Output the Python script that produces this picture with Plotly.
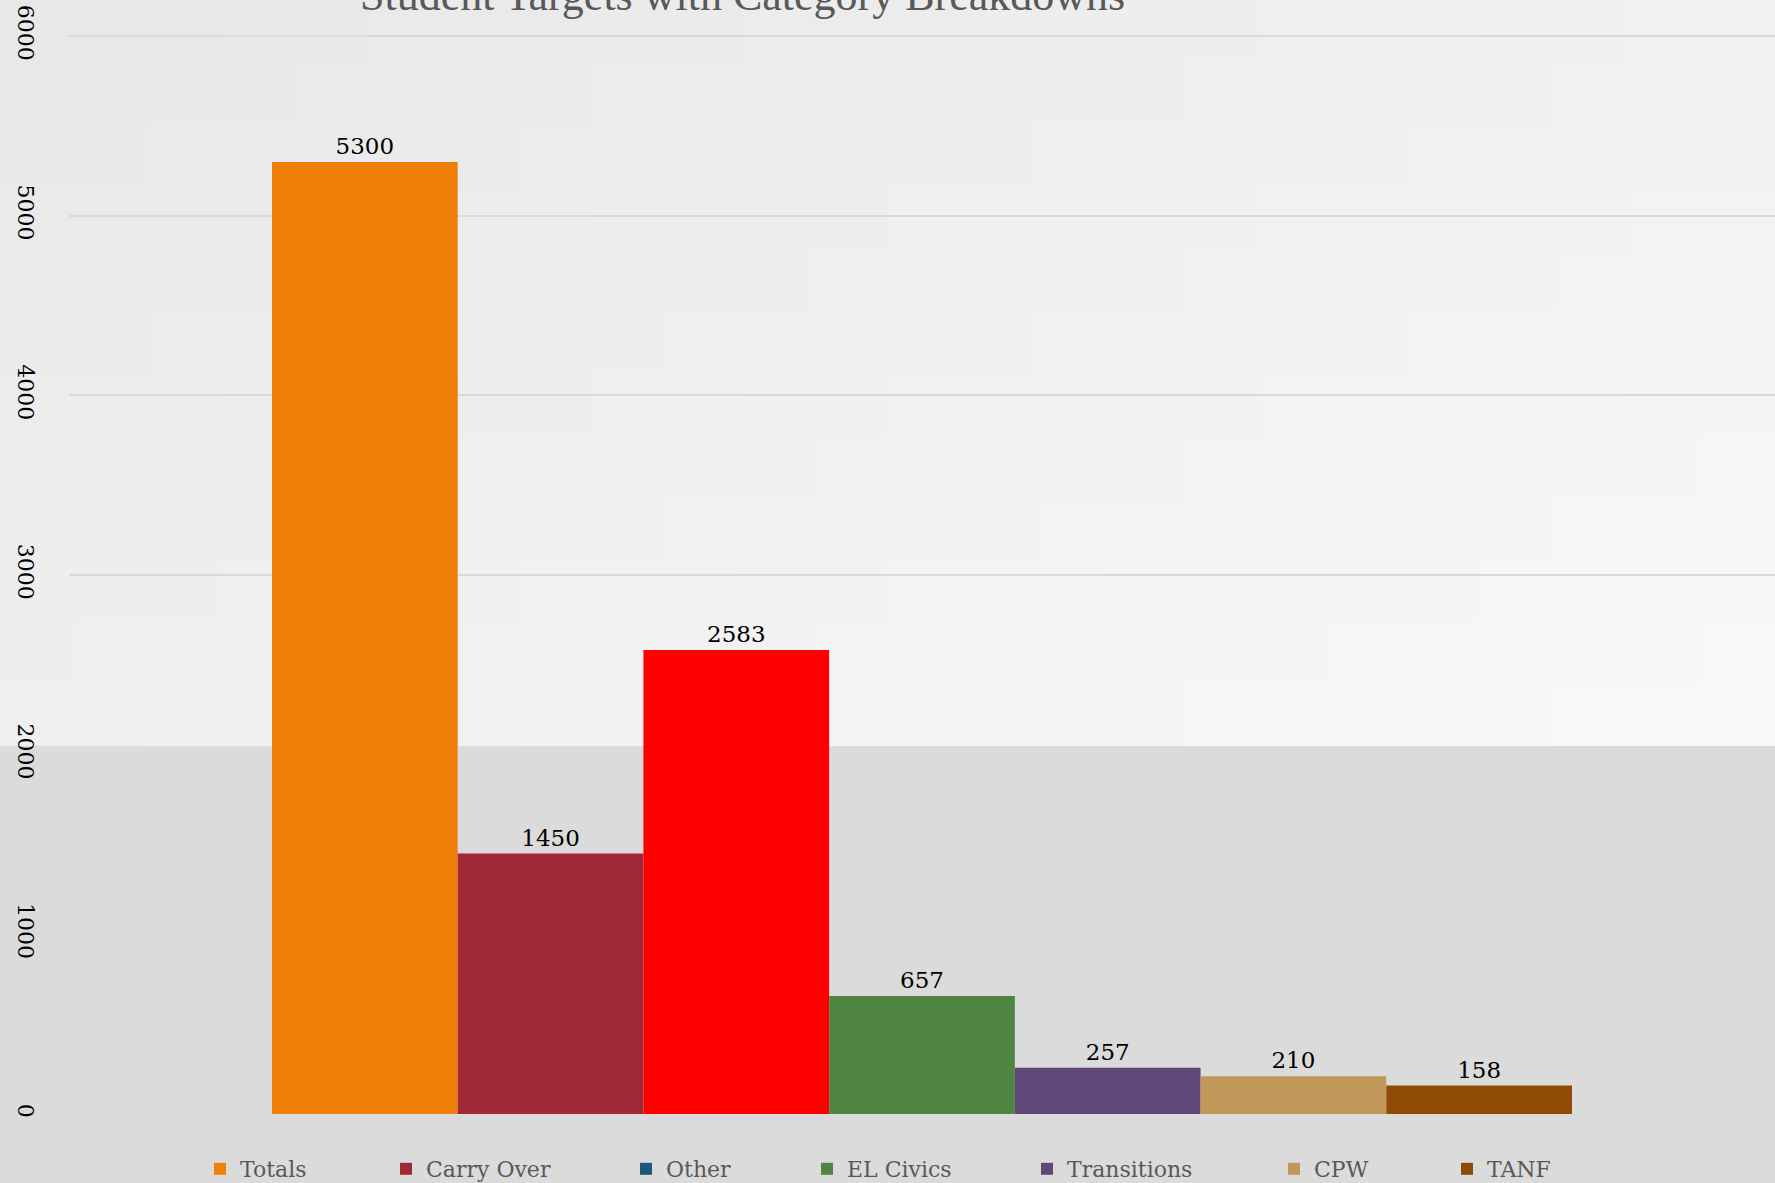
import plotly.graph_objects as go

# ---- data ----
category = ["Student Targets"]
series_names = ["Totals", "Carry Over", "Other", "EL Civics", "Transitions", "CPW", "TANF"]
series_values = [5300, 1450, 2583, 657, 257, 210, 158]
bar_colors = ["#F07F09", "#9F2936", "#FF0000", "#4E8542", "#604878", "#C19859", "#8F4A05"]
legend_colors = ["#F07F09", "#9F2936", "#1B587C", "#4E8542", "#604878", "#C19859", "#8F4A05"]
tick_values = [0, 1000, 2000, 3000, 4000, 5000, 6000]
tick_labels = ["0", "1000", "2000", "3000", "4000", "5000", "6000"]
title_text = "Student Targets with Category Breakdowns"

# ---- layout geometry (pixels) ----
W, H = 1775, 1183
ML, MR, MT, MB = 69, 0, 34, 69
PW = W - ML - MR
PH = H - MT - MB
Y_MAX = 6012


def px_to_paper_x(px):
    return (px - ML) / PW


def px_to_paper_y(py):
    return (H - MB - py) / PH


legend_symbol_px = [220, 406, 646, 827, 1047, 1294, 1467]
legend_center_y = 1169

fig = go.Figure()

for i, (name, val) in enumerate(zip(series_names, series_values)):
    leg = "legend" if i == 0 else f"legend{i + 1}"
    fig.add_trace(go.Bar(
        x=category, y=[val], name=name,
        marker=dict(color=bar_colors[i], line=dict(width=0)),
        text=[str(val)], textposition="outside",
        textfont=dict(family="DejaVu Serif", size=23, color="#000000"),
        cliponaxis=False,
        legend=leg,
        showlegend=(bar_colors[i] == legend_colors[i]),
        hoverinfo="name+y",
    ))
    if bar_colors[i] != legend_colors[i]:
        fig.add_trace(go.Scatter(
            x=category, y=[None], mode="markers", name=name,
            marker=dict(symbol="square", size=12, color=legend_colors[i]),
            legend=leg, showlegend=True, hoverinfo="skip",
        ))

# ---- background: gradient in upper part, grey texture region in lower part ----
shapes = []
split_y = 746
cols, rows = 24, 12
for r in range(rows):
    for c in range(cols):
        x0 = c * W / cols
        x1 = (c + 1) * W / cols
        y0 = r * split_y / rows
        y1 = (r + 1) * split_y / rows
        t = 0.55 * ((c + 0.5) / cols) + 0.45 * ((r + 0.5) / rows)
        lo, hi = 0xE7, 0xF9
        v = int(round(lo + (hi - lo) * min(max(t, 0), 1)))
        col = f"rgb({v},{v},{v})"
        shapes.append(dict(
            type="rect", xref="paper", yref="paper", layer="below",
            x0=px_to_paper_x(x0), x1=px_to_paper_x(x1 + 1),
            y0=px_to_paper_y(y1 + 1), y1=px_to_paper_y(y0),
            fillcolor=col, line=dict(width=0),
        ))
shapes.append(dict(
    type="rect", xref="paper", yref="paper", layer="below",
    x0=px_to_paper_x(0), x1=px_to_paper_x(W),
    y0=px_to_paper_y(H), y1=px_to_paper_y(split_y),
    fillcolor="#dbdbdb", line=dict(width=0),
))

legend_font = dict(family="DejaVu Serif", size=22, color="#595959")
legends = {}
for i in range(len(series_names)):
    key = "legend" if i == 0 else f"legend{i + 1}"
    legends[key] = dict(
        x=px_to_paper_x(legend_symbol_px[i] - 20), xanchor="left",
        y=px_to_paper_y(legend_center_y), yanchor="middle",
        orientation="h", bgcolor="rgba(0,0,0,0)", borderwidth=0,
        font=legend_font, itemwidth=30,
    )

fig.update_layout(
    width=W, height=H,
    margin=dict(l=ML, r=MR, t=MT, b=MB, pad=0, autoexpand=False),
    paper_bgcolor="#dbdbdb",
    plot_bgcolor="rgba(0,0,0,0)",
    barmode="group", bargap=0.238, bargroupgap=0,
    shapes=shapes,
    showlegend=True,
    annotations=[dict(
        text=title_text, xref="paper", yref="paper",
        x=px_to_paper_x(742), y=px_to_paper_y(-4),
        xanchor="center", yanchor="middle", showarrow=False,
        font=dict(family="Liberation Serif", size=44, color="#595959"),
    )],
    xaxis=dict(showticklabels=False, showgrid=False, zeroline=False, showline=False,
               ticks=""),
    yaxis=dict(range=[0, Y_MAX], tickvals=tick_values, ticktext=tick_labels,
               tickangle=90, ticks="", showline=False, zeroline=False,
               gridcolor="#d9d9d9", gridwidth=2,
               tickfont=dict(family="DejaVu Serif", size=22, color="#000000"),
               ticklabelstandoff=28),
    **legends,
)

fig.write_html("out.html", config={"displayModeBar": False},
               post_script="document.body.style.margin='0';document.body.style.overflow='hidden';")
